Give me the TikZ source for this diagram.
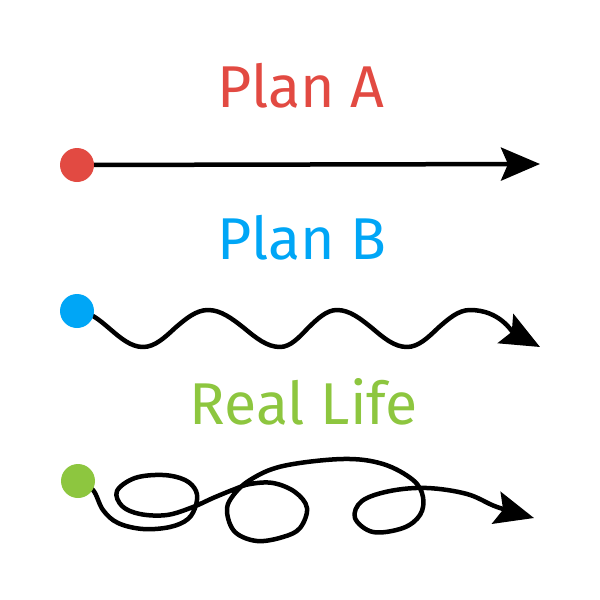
\documentclass[tikz,border=0pt]{standalone}
\usepackage{fontspec}
\setmainfont{Fira Sans}
\usetikzlibrary{arrows.meta,backgrounds}
\definecolor{planred}{RGB}{226,74,66}
\definecolor{planblue}{RGB}{0,166,246}
\definecolor{lifegreen}{RGB}{141,198,63}
\tikzset{
  title/.style={font=\fontsize{59}{59}\selectfont, anchor=base, inner sep=0pt},
  dot/.style={circle, fill=#1, minimum size=34pt, inner sep=0pt},
  path line/.style={line width=4.5pt, line cap=round, line join=round,
    -{Stealth[length=39pt,width=33pt,inset=7pt]}}
}
\begin{document}
\begin{tikzpicture}[x=1pt,y=-1pt]
\useasboundingbox (0,0) rectangle (600,600);

\node[title, text=planred] (titleA) at (301,107) {Plan A};
\node[title, text=planblue] (titleB) at (302,259) {Plan B};
\node[title, text=lifegreen] (titleC) at (304,424) {Real Life};

\node[dot=planred] (dotA) at (77,165) {};
\node[dot=planblue] (dotB) at (77,311) {};
\node[dot=lifegreen] (dotC) at (78,481) {};

\coordinate (endA) at (540,164);
\coordinate (endB) at (540,347);
\coordinate (endC) at (534,518);

\begin{scope}[on background layer]
% straight
\draw[path line] (dotA.center) -- (endA);
% wave
\draw[path line] (dotB.center) cos (110,329) sin (143,347) cos (175,328) sin (208,310)
  cos (244,328) sin (280,347) cos (308,328) sin (337,310)
  cos (372,328) sin (407,347) cos (438,328) sin (470,310)
  .. controls (500,310) and (512,332) .. (endB);
% loops
\draw[path line] plot[smooth, tension=0.6] coordinates {(dotC.center) (93,490) (103,510)
  (118,523) (143,529) (170,527) (188,519) (196,505) (196,491) (185,480) (163,475)
  (135,478) (117,491) (122,506) (140,514) (167,515) (193,507) (213,498) (235,489)
  (250,484) (273,483) (295,492) (307,508) (300,528) (283,537) (257,541) (235,532)
  (227,512) (232,497) (250,480) (283,466) (343,459) (383,464) (413,480) (423,497)
  (420,515) (403,528) (373,532) (355,518) (362,501) (390,491) (427,488) (467,494)
  (497,507) (endC)};
\end{scope}
\end{tikzpicture}
\end{document}
